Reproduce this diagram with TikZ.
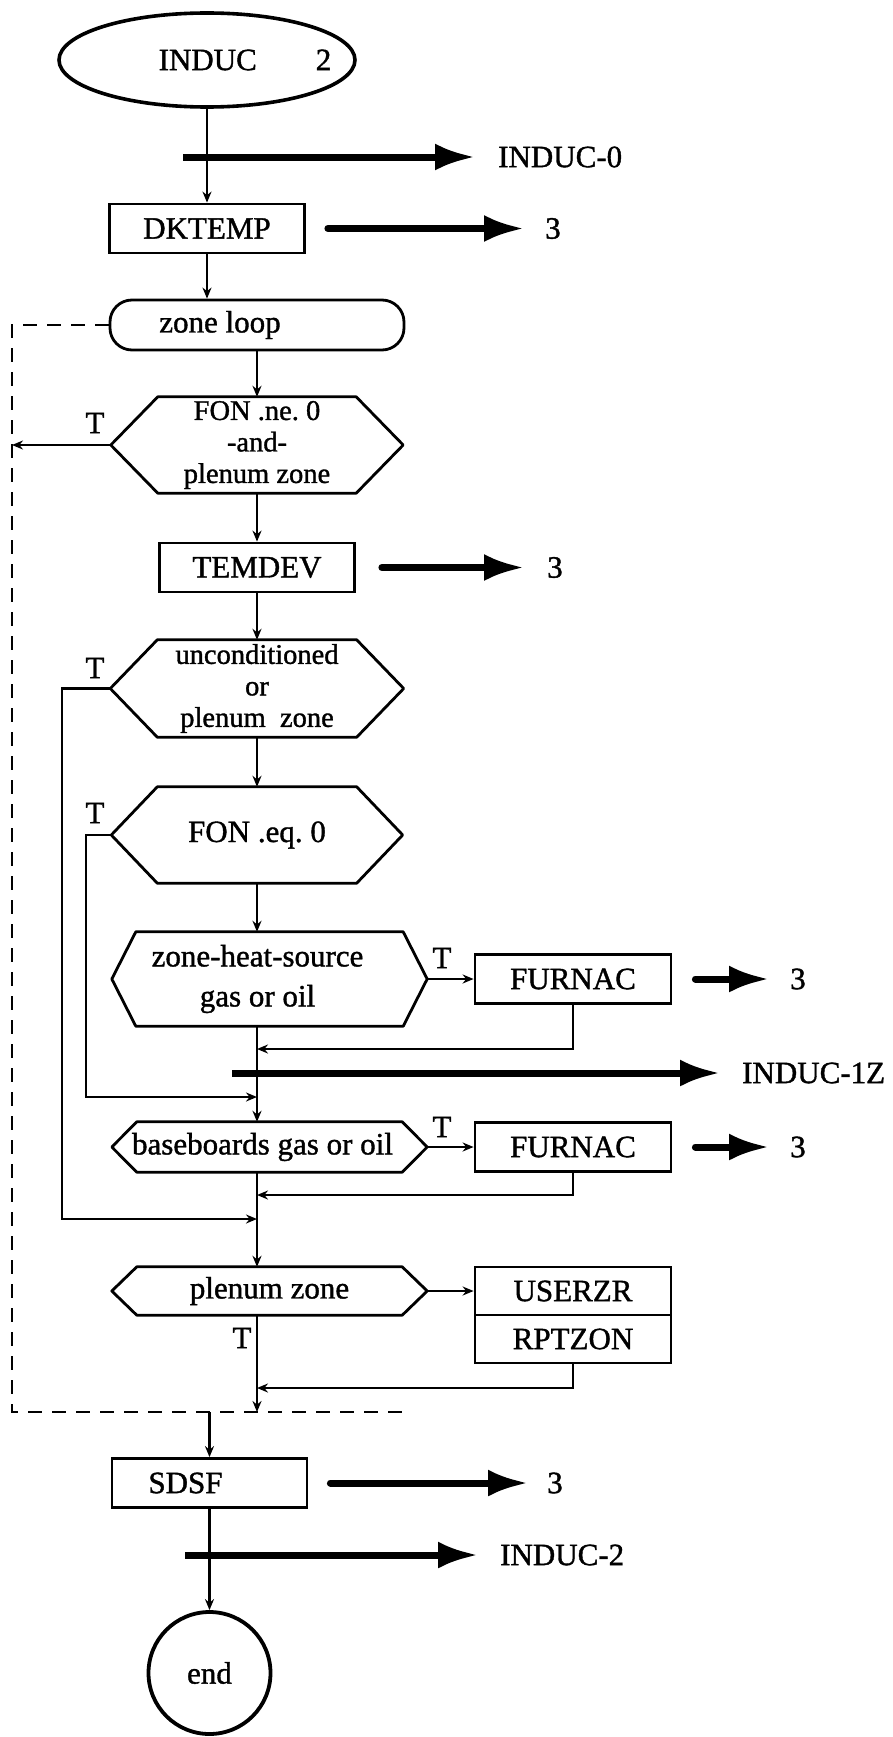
\documentclass[tikz,border=0pt]{standalone}
\usepackage{fontspec}
\setmainfont{Liberation Serif}[UprightFeatures={FakeBold=1.2}]
\usetikzlibrary{arrows.meta,shapes.geometric,calc}
\newcommand\hexo[2]{\draw[boxline] (#1.west) -- ([xshift=#2pt]#1.north west) -- ([xshift=-#2pt]#1.north east) -- (#1.east) -- ([xshift=-#2pt]#1.south east) -- ([xshift=#2pt]#1.south west) -- cycle;}
\begin{document}
\begin{tikzpicture}[x=1pt,y=-1pt,
  every node/.style={font=\fontsize{31}{26}\selectfont},
  boxline/.style={line width=2.8pt, line join=round},
  flow/.style={line width=2.2pt, -{Stealth[length=11pt,width=9pt]}},
  fat/.style={line width=7pt, -{Latex[length=40pt,width=27pt]}},
  procbox/.style={draw, line width=2.8pt, minimum width=195pt, minimum height=49pt, inner sep=0pt},
  hexn/.style={inner sep=0pt, align=center},
  tlbl/.style={inner sep=0pt},
  outlbl/.style={inner sep=0pt, anchor=west},
  loopline/.style={line width=2.6pt, dash pattern=on 14pt off 10pt}]
\useasboundingbox (0,0) rectangle (892,1737);

% nodes
\node[ellipse, draw, line width=3.6pt, minimum width=296pt, minimum height=94pt, inner sep=0pt,
  label={[xshift=38pt]center:INDUC\hspace{59pt}2}] (start) at (207,60) {};
\node[procbox] (dktemp) at (207,228.5) {DKTEMP};
\node[draw, line width=2.8pt, rounded corners=22pt, minimum width=294pt, minimum height=50pt, inner sep=0pt,
  label={[xshift=-37pt]center:zone loop}] (loop) at (257,325) {};
\node[hexn, minimum width=292pt, minimum height=96pt, font=\fontsize{28.5}{31.5}\selectfont] (h1) at (257,445) {FON .ne.\ 0\\-and-\\plenum zone};
\node[procbox] (temdev) at (257,567.5) {TEMDEV};
\node[hexn, minimum width=293pt, minimum height=97pt, font=\fontsize{28.5}{31.5}\selectfont] (h2) at (257,688.5) {unconditioned\\or\\plenum\ \ zone};
\node[hexn, minimum width=291pt, minimum height=96pt] (h3) at (257,835) {FON .eq.\ 0};
\node[hexn, minimum width=315pt, minimum height=94pt,
  label={[xshift=-12pt, align=center, font=\fontsize{31}{40}\selectfont]center:zone-heat-source\\gas or oil}] (h4) at (269.5,979) {};
\node[hexn, minimum width=315pt, minimum height=50pt,
  label={[xshift=-7pt]center:baseboards gas or oil}] (h5) at (269.5,1147) {};
\node[hexn, minimum width=315pt, minimum height=48pt] (h6) at (269.5,1291) {plenum zone};
\node[procbox, minimum width=196pt] (fur1) at (573,979) {FURNAC};
\node[procbox, minimum width=196pt] (fur2) at (573,1147) {FURNAC};
\node[procbox, minimum width=196pt, minimum height=48pt] (userzr) at (573,1291) {USERZR};
\node[procbox, minimum width=196pt, minimum height=48pt] (rptzon) at (573,1339) {RPTZON};
\node[procbox, label={[xshift=-24pt]center:SDSF}] (sdsf) at (209.5,1483) {};
\node[circle, draw, line width=3.8pt, minimum size=122pt, inner sep=0pt] (endc) at (209.5,1673) {end};

\hexo{h1}{47}
\hexo{h2}{47}
\hexo{h3}{46}
\hexo{h4}{24}
\hexo{h5}{25}
\hexo{h6}{25}

% output labels
\node[outlbl] (o0) at (498,157) {INDUC-0};
\node[outlbl] (o1) at (545,228.5) {3};
\node[outlbl] (o2) at (547,567.5) {3};
\node[outlbl] (o3) at (790,979) {3};
\node[outlbl] (o4) at (742,1073) {INDUC-1Z};
\node[outlbl] (o5) at (790,1147) {3};
\node[outlbl] (o6) at (547,1483) {3};
\node[outlbl] (o7) at (500,1555) {INDUC-2};

% T labels
\node[tlbl] (t1) at (95,423) {T};
\node[tlbl] (t2) at (95,668) {T};
\node[tlbl] (t3) at (95,813) {T};
\node[tlbl] (t4) at (442,958) {T};
\node[tlbl] (t5) at (442,1127) {T};
\node[tlbl] (t6) at (242,1338) {T};

% junction coordinates
\coordinate (lp1) at (12,445);
\coordinate (jr1) at (257,1049);
\coordinate (j3) at (257,1097);
\coordinate (jr2) at (257,1195);
\coordinate (j2) at (257,1219);
\coordinate (jr3) at (257,1388);
\coordinate (jd) at (257,1412);
\coordinate (dl) at (12,1412);
\coordinate (dr) at (405,1412);
\coordinate (b0) at (183,157);
\coordinate (b4) at (232,1073);
\coordinate (b7) at (185,1555);

% thin connectors
\draw[flow] (start.south) -- (dktemp.north);
\draw[flow] (dktemp.south) -- (dktemp.south |- loop.north);
\draw[flow] (loop.south) -- (h1.north);
\draw[flow] (h1.west) -- (lp1);
\draw[flow] (h1.south) -- (temdev.north);
\draw[flow] (temdev.south) -- (h2.north);
\draw[flow] (h2.south) -- (h3.north);
\draw[flow] (h3.south) -- (h3.south |- h4.north);
\draw[flow] (h4.east) -- (fur1.west);
\draw[flow] (fur1.south) |- (jr1);
\draw[flow] (h3.south |- h4.south) -- (h3.south |- h5.north);
\draw[flow] (h3.west) -- ++(-25,0) |- (j3);
\draw[flow] (h5.east) -- (fur2.west);
\draw[flow] (fur2.south) |- (jr2);
\draw[flow] (h2.west) -- ++(-48,0) |- (j2);
\draw[flow] (h3.south |- h5.south) -- (h3.south |- h6.north);
\draw[flow] (h6.east) -- (userzr.west);
\draw[flow] (rptzon.south) |- (jr3);
\draw[flow] (h3.south |- h6.south) -- (jd);
\draw[loopline] (loop.west) -| (dl) -- (dr);
\draw[flow] (sdsf.north |- dl) -- (sdsf.north);
\draw[flow] (sdsf.south) -- (endc.north);

% thick arrows
\draw[fat] (b0) -- ([xshift=-23pt]o0.west);
\draw[fat, line cap=round] ([xshift=22pt]dktemp.east) -- ([xshift=-21pt]o1.west);
\draw[fat, line cap=round] ([xshift=26pt]temdev.east) -- ([xshift=-23pt]o2.west);
\draw[fat, line cap=round] ([xshift=23pt]fur1.east) -- ([xshift=-21pt]o3.west);
\draw[fat] (b4) -- ([xshift=-22pt]o4.west);
\draw[fat, line cap=round] ([xshift=23pt]fur2.east) -- ([xshift=-21pt]o5.west);
\draw[fat, line cap=round] ([xshift=22pt]sdsf.east) -- ([xshift=-19pt]o6.west);
\draw[fat] (b7) -- ([xshift=-22pt]o7.west);
\end{tikzpicture}
\end{document}
